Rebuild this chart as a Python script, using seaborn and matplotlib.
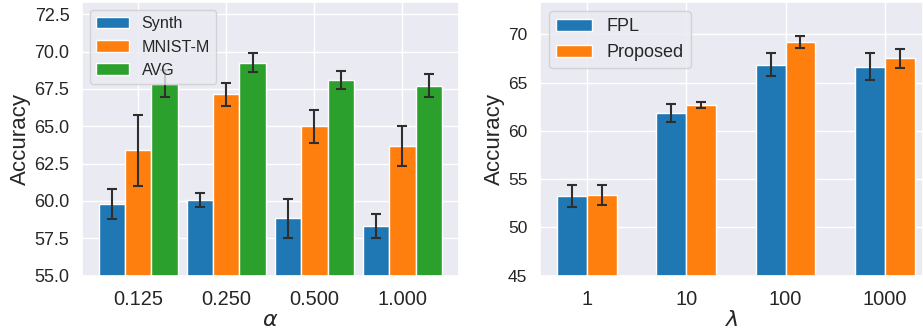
import matplotlib
matplotlib.use("Agg")
import matplotlib.pyplot as plt
import seaborn as sns
import pandas as pd

# Left panel: accuracy vs. alpha
alpha_labels = ["0.125", "0.250", "0.500", "1.000"]
synth_mean = [59.8, 60.05, 58.85, 58.35]
synth_err = [1.03, 0.47, 1.3, 0.8]
mnistm_mean = [63.4, 67.15, 65.0, 63.7]
mnistm_err = [2.37, 0.78, 1.1, 1.35]
avg_mean = [67.85, 69.25, 68.1, 67.7]
avg_err = [0.9, 0.63, 0.63, 0.77]
left_series = ["Synth", "MNIST-M", "AVG"]
left_yticks = [55, 57.5, 60, 62.5, 65, 67.5, 70, 72.5]

# Right panel: accuracy vs. lambda
lambda_labels = ["1", "10", "100", "1000"]
fpl_mean = [53.25, 61.85, 66.85, 66.65]
fpl_err = [1.1, 0.9, 1.2, 1.4]
proposed_mean = [53.35, 62.65, 69.25, 67.5]
proposed_err = [1.07, 0.3, 0.62, 1.0]
right_series = ["FPL", "Proposed"]
right_yticks = [45, 50, 55, 60, 65, 70]


def long_frame(cats, names, means):
    rows = []
    for name, vals in zip(names, means):
        for c, v in zip(cats, vals):
            rows.append({"cat": c, "series": name, "acc": v})
    return pd.DataFrame(rows)


sns.set_theme(style="darkgrid")
plt.rcParams["font.family"] = ["Liberation Sans", "DejaVu Sans"]

fig = plt.figure(figsize=(9.23, 3.33), dpi=100)
ax1 = fig.add_axes([0.0888, 0.1721, 0.4081, 0.8219])
ax2 = fig.add_axes([0.5850, 0.1721, 0.4150, 0.8219])

palette = sns.color_palette("tab10")


def draw(ax, cats, names, means, errs, width, ylim, xlim, xlabel,
         ytick_size, legend_size):
    df = long_frame(cats, names, means)
    sns.barplot(data=df, x="cat", y="acc", hue="series", order=cats,
                hue_order=names, palette=palette[:len(names)],
                width=width, saturation=1, errorbar=None,
                edgecolor="white", linewidth=1, ax=ax, legend=False)
    handles = []
    for cont, err, name in zip(ax.containers, errs, names):
        xs = [b.get_x() + b.get_width() / 2 for b in cont]
        ys = [b.get_height() for b in cont]
        ax.errorbar(xs, ys, yerr=err, fmt="none", ecolor="#2e2e2e",
                    elinewidth=1.5, capsize=3.8, capthick=1.5, zorder=4)
        handles.append(cont)
    ax.set_ylim(*ylim)
    ax.set_xlim(*xlim)
    ax.set_xlabel(xlabel, fontsize=16, labelpad=1)
    ax.set_ylabel("Accuracy", fontsize=16, labelpad=2)
    ax.tick_params(axis="x", labelsize=14.4, pad=4)
    ax.tick_params(axis="y", labelsize=ytick_size, pad=3)
    ax.xaxis.grid(True)
    ax.legend(handles=handles, labels=names, loc="upper left",
              prop={"size": legend_size}, frameon=True, borderaxespad=0.5)


draw(ax1, alpha_labels, left_series, [synth_mean, mnistm_mean, avg_mean],
     [synth_err, mnistm_err, avg_err], 0.9, (55, 73.32), (-0.64, 3.64),
     r"$\alpha$", 13, 11.6)
ax1.set_yticks(left_yticks)
ax1.set_yticklabels([f"{v:.1f}" for v in left_yticks])

draw(ax2, lambda_labels, right_series, [fpl_mean, proposed_mean],
     [fpl_err, proposed_err], 0.6, (45, 73.35), (-0.474, 3.385),
     r"$\lambda$", 12.5, 13)
ax2.set_yticks(right_yticks)

fig.savefig("out.png", dpi=100)
